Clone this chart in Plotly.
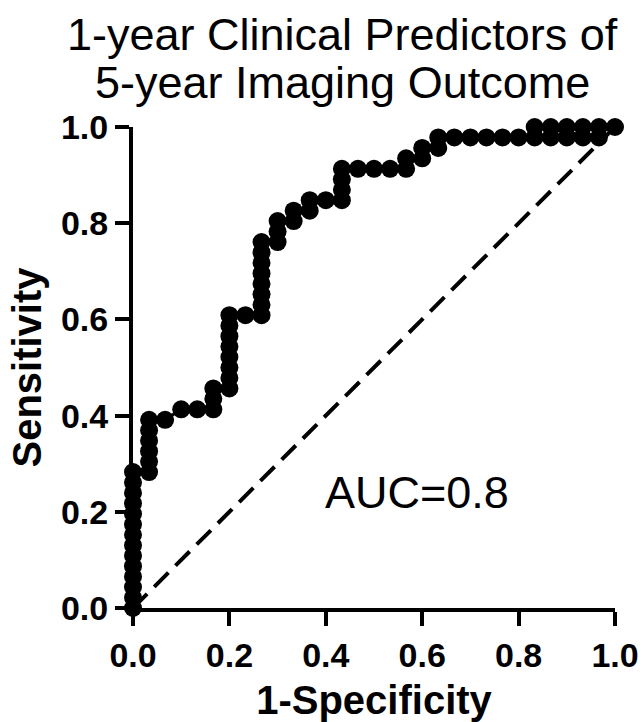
import plotly.graph_objects as go

# ROC points (1-specificity steps of 1/30, sensitivity steps of 1/46)
n_neg = 30
n_pos = 46
fpr_steps = [0, 0, 0, 0, 0, 0, 0, 0, 0, 0, 0, 0, 0, 0,
             1, 1, 1, 1, 1, 1,
             2, 3, 4,
             5, 5, 5,
             6, 6, 6, 6, 6, 6, 6, 6,
             7,
             8, 8, 8, 8, 8, 8, 8, 8,
             9, 9, 9,
             10, 10,
             11, 11,
             12,
             13, 13, 13, 13,
             14, 15, 16,
             17, 17,
             18, 18,
             19, 19,
             20, 21, 22, 23, 24, 25, 26, 27, 28, 29,
             25, 26, 27, 28, 29, 30]
tpr_steps = [0, 1, 2, 3, 4, 5, 6, 7, 8, 9, 10, 11, 12, 13,
             13, 14, 15, 16, 17, 18,
             18, 19, 19,
             19, 20, 21,
             21, 22, 23, 24, 25, 26, 27, 28,
             28,
             28, 29, 30, 31, 32, 33, 34, 35,
             35, 36, 37,
             37, 38,
             38, 39,
             39,
             39, 40, 41, 42,
             42, 42, 42,
             42, 43,
             43, 44,
             44, 45,
             45, 45, 45, 45, 45, 45, 45, 45, 45, 45,
             46, 46, 46, 46, 46, 46]

fpr = [k / n_neg for k in fpr_steps]
tpr = [k / n_pos for k in tpr_steps]

ref_line = [0, 1]
ticks = [0.0, 0.2, 0.4, 0.6, 0.8, 1.0]
tick_text = ["0.0", "0.2", "0.4", "0.6", "0.8", "1.0"]
auc = 0.8
title_lines = ["1-year Clinical Predictors of", "5-year Imaging Outcome"]

font_name = "Liberation Sans, Arial, sans-serif"

fig = go.Figure()

# chance line
fig.add_trace(go.Scatter(x=ref_line, y=ref_line, mode="lines",
                         line=dict(color="black", width=4, dash="20px,10px"),
                         cliponaxis=False, showlegend=False, hoverinfo="skip"))

# ROC curve
fig.add_trace(go.Scatter(x=fpr, y=tpr, mode="lines+markers",
                         line=dict(color="black", width=3),
                         marker=dict(color="black", size=18, symbol="circle"),
                         cliponaxis=False, showlegend=False))

fig.add_annotation(x=0.59, y=0.24, xref="x", yref="y",
                   text=f"AUC={auc}", showarrow=False,
                   font=dict(family=font_name, size=45, color="black"))

# two-line title, placed as separate lines to keep the tight line spacing
for line, ypos in zip(title_lines, [1.193, 1.092]):
    fig.add_annotation(x=0.434, y=ypos, xref="paper", yref="paper",
                       text=line, showarrow=False, yanchor="middle",
                       font=dict(family=font_name, size=45, color="black"))

axis_common = dict(
    range=[0, 1], tickvals=ticks, ticktext=tick_text,
    showline=True, linecolor="black", linewidth=4,
    ticks="outside", ticklen=14, tickwidth=4, tickcolor="black",
    showgrid=False, zeroline=False, automargin=False,
    ticklabeloverflow="allow",
    tickfont=dict(family=font_name, size=34, color="black", weight="bold"),
)

fig.update_layout(
    width=644, height=722,
    paper_bgcolor="white", plot_bgcolor="white",
    margin=dict(l=133, r=29, t=127, b=114),
    xaxis=dict(axis_common,
               title=dict(text="1-Specificity", standoff=14,
                          font=dict(family=font_name, size=40, color="black", weight="bold"))),
    yaxis=dict(axis_common,
               title=dict(text="Sensitivity", standoff=8,
                          font=dict(family=font_name, size=40, color="black", weight="bold"))),
)

# drop the default 8px body margin so the figure fills the window exactly
fig.write_html("out.html", config={"displayModeBar": False},
               post_script="document.body.style.margin = '0';")
